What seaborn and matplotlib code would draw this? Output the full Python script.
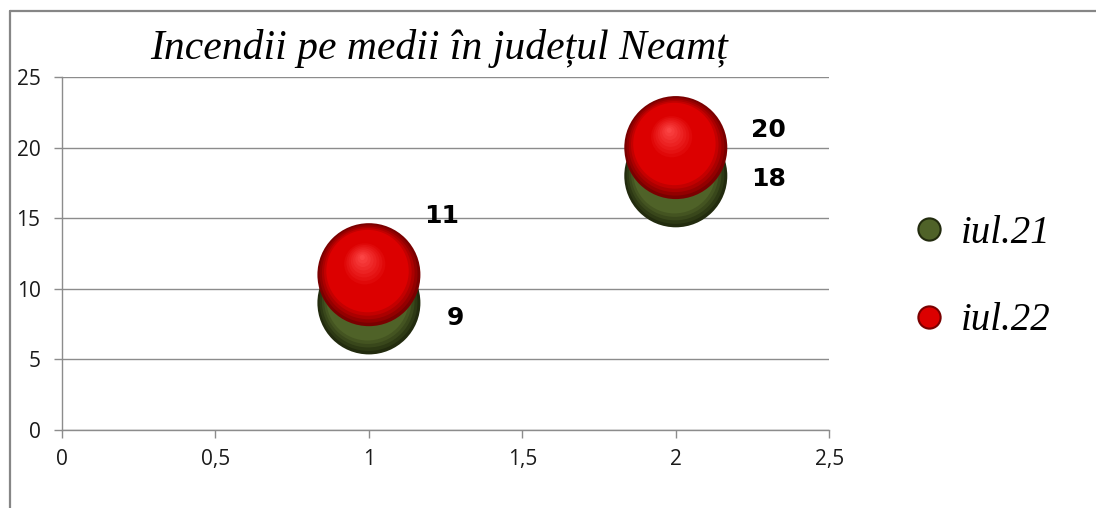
import matplotlib
matplotlib.use("Agg")
import matplotlib.pyplot as plt
import matplotlib.transforms as mtransforms
from matplotlib.lines import Line2D
from matplotlib.colors import to_rgb
import numpy as np
import pandas as pd
import seaborn as sns

# data
x_vals = [1, 2]
iul21 = [9, 18]
iul22 = [11, 20]
series_names = ["iul.21", "iul.22"]
title = "Incendii pe medii în județul Neamț"
x_ticks = [0, 0.5, 1, 1.5, 2, 2.5]
x_tick_labels = ["0", "0,5", "1", "1,5", "2", "2,5"]
y_ticks = [0, 5, 10, 15, 20, 25]

df = pd.DataFrame({
    "x": x_vals * 2,
    "y": iul21 + iul22,
    "serie": [series_names[0]] * len(x_vals) + [series_names[1]] * len(x_vals),
})

# sphere colours: edge (dark), body, highlight
shades = {
    "iul.21": ("#222b0e", "#4f6228", "#6c8142"),
    "iul.22": ("#7a0000", "#dc0000", "#ff4c4c"),
}

sns.set_theme(style="white")
fig = plt.figure(figsize=(10.96, 5.08), dpi=100)
ax = fig.add_axes([0.0566, 0.1535, 0.7, 0.695])

def mix(c1, c2, t):
    a, b = np.array(to_rgb(c1)), np.array(to_rgb(c2))
    return tuple(a + (b - a) * min(max(t, 0), 1))

base_s = 5500
n_layers = 20
for name in series_names:
    sub = df[df["serie"] == name]
    dark, body, light = shades[name]
    # base sphere through seaborn
    sns.scatterplot(data=sub, x="x", y="y", color=dark, s=base_s,
                    edgecolor="none", ax=ax, legend=False, zorder=2)
    for k in range(1, n_layers):
        frac = 1 - k / n_layers
        t = k / n_layers
        if t < 0.2:
            col = mix(dark, body, t / 0.2)
        elif t < 0.55:
            col = body
        else:
            col = mix(body, light, (t - 0.55) / 0.45)
        off = mtransforms.offset_copy(ax.transData, fig=fig,
                                      x=-5 * t, y=13 * t, units="points")
        ax.scatter(sub["x"], sub["y"], s=base_s * frac ** 2, color=col,
                   edgecolor="none", transform=off, zorder=2)

# data labels
label_offsets = {"iul.21": [(56, -11), (54, -2)], "iul.22": [(40, 42), (54, 13)]}
for name, vals in zip(series_names, [iul21, iul22]):
    for xv, yv, (dx, dy) in zip(x_vals, vals, label_offsets[name]):
        ax.annotate(str(yv), (xv, yv), xytext=(dx, dy), textcoords="offset points",
                    ha="left", va="center", fontsize=18, fontweight="bold",
                    family="DejaVu Sans", color="black", zorder=5)

ax.set_xlim(0, 2.5)
ax.set_ylim(0, 25)
ax.set_xticks(x_ticks)
ax.set_xticklabels(x_tick_labels)
ax.set_yticks(y_ticks)
ax.set_xlabel("")
ax.set_ylabel("")
ax.yaxis.grid(True, color="#8c8c8c", linewidth=1)
ax.xaxis.grid(False)
ax.set_axisbelow(True)
for side in ["top", "right"]:
    ax.spines[side].set_visible(False)
for side in ["left", "bottom"]:
    ax.spines[side].set_color("#8c8c8c")
    ax.spines[side].set_linewidth(1)
ax.tick_params(axis="both", which="both", direction="out", length=5.5, width=1,
               color="#8c8c8c", labelsize=15, labelcolor="#1a1a1a", left=True, bottom=True)
ax.tick_params(axis="y", pad=10)
ax.tick_params(axis="x", pad=8)
for lab in ax.get_xticklabels() + ax.get_yticklabels():
    lab.set_family("Open Sans")

fig.text(0.401, 0.905, title, ha="center", va="center", fontsize=30,
         family="Liberation Serif", style="italic", color="black")

handles = [Line2D([], [], marker="o", linestyle="none", markersize=16,
                  markerfacecolor=shades[n][1], markeredgecolor=shades[n][0], markeredgewidth=1.5)
           for n in series_names]
leg = fig.legend(handles, series_names, loc="center left", bbox_to_anchor=(0.8, 0.455),
                 frameon=False, labelspacing=1.3, handletextpad=0.35, handlelength=0.9,
                 prop={"family": "Liberation Serif", "style": "italic", "size": 28})
for txt in leg.get_texts():
    txt.set_color("black")

# outer chart frame (top and left edges visible)
fig.add_artist(Line2D([0.0087, 1.0], [0.9774, 0.9774], transform=fig.transFigure,
                      color="#868686", linewidth=1.6))
fig.add_artist(Line2D([0.0087, 0.0087], [0.0, 0.9774], transform=fig.transFigure,
                      color="#868686", linewidth=1.6))

fig.savefig("out.png", dpi=100)
